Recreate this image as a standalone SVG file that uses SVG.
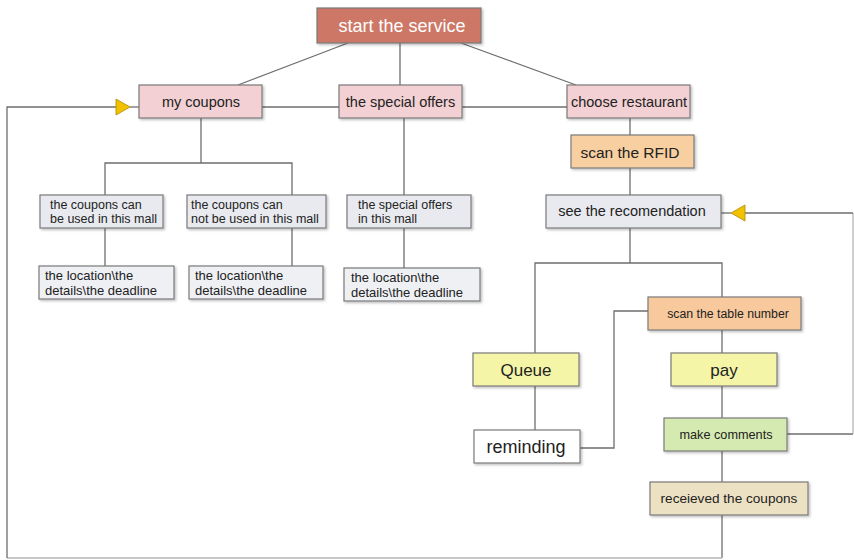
<svg xmlns="http://www.w3.org/2000/svg" width="854" height="560" viewBox="0 0 854 560">
<style>
.b{stroke:#7a7a7a;stroke-width:1.2}
.c{fill:none;stroke:#6e6e6e;stroke-width:1.3}
.c2{fill:none;stroke:#b5b5b5;stroke-width:1.3}
text{font-family:"Liberation Sans","Open Sans",sans-serif;fill:#222}
.m{text-anchor:middle}
.s12{font-size:12.5px}
.d{font-size:13px}
.s13{font-size:14.5px}
.s16{font-size:17px}
.tri{fill:#f2c200;stroke:#b08900;stroke-width:0.8}
</style>
<defs>
<filter id="sh" x="-5%" y="-5%" width="115%" height="130%">
<feDropShadow dx="1.5" dy="1.5" stdDeviation="1" flood-color="#000" flood-opacity="0.25"/>
</filter>
</defs>
<rect width="854" height="560" fill="#fff"/>
<g id="connectors">
<line class="c" x1="348" y1="43" x2="238" y2="85"/>
<line class="c" x1="400" y1="43" x2="400" y2="85"/>
<line class="c" x1="461" y1="43" x2="576" y2="85"/>
<line class="c" x1="262" y1="107" x2="339" y2="107"/>
<line class="c" x1="462" y1="107" x2="567" y2="107"/>
<polyline class="c" points="722,515 722,558"/>
<polyline class="c2" points="722,558 7,558"/>
<polyline class="c" points="7,558 7,107 116,107"/>
<line class="c" x1="130" y1="107" x2="139" y2="107"/>
<polygon class="tri" points="116,99 130,107 116,115"/>
<polyline class="c" points="201,118 201,163"/>
<polyline class="c" points="105,195 105,163 292,163 292,195"/>
<line class="c" x1="105" y1="228" x2="105" y2="266"/>
<line class="c" x1="292" y1="228" x2="292" y2="266"/>
<line class="c" x1="404" y1="118" x2="404" y2="195"/>
<line class="c" x1="404" y1="228" x2="404" y2="268"/>
<line class="c" x1="630" y1="118" x2="630" y2="135"/>
<line class="c" x1="630" y1="168" x2="630" y2="195"/>
<line class="c" x1="630" y1="228" x2="630" y2="263"/>
<polyline class="c" points="535,353 535,263 722,263 722,297"/>
<line class="c" x1="535" y1="386" x2="535" y2="430"/>
<polyline class="c" points="580,448 614,448 614,311 648,311"/>
<line class="c" x1="722" y1="330" x2="722" y2="353"/>
<line class="c" x1="722" y1="386" x2="722" y2="418"/>
<line class="c" x1="722" y1="451" x2="722" y2="482"/>
<polyline class="c" points="787,434 853,434"/>
<polyline class="c2" points="853,434 853,213"/>
<line class="c" x1="853" y1="213" x2="745" y2="213"/>
<line class="c" x1="721" y1="213" x2="731" y2="213"/>
<polygon class="tri" points="745,205 731,213 745,221"/>
</g>
<g id="start">
<rect class="b" x="317" y="8" width="164" height="35" fill="#cd7866" filter="url(#sh)"/>
<text class="m" x="402" y="32" font-size="18" style="fill:#fff">start the service</text>
</g>
<g id="my-coupons">
<rect class="b" x="139" y="85" width="123" height="33" fill="#f2d0d3" filter="url(#sh)"/>
<text class="m s13" x="201" y="107">my coupons</text>
</g>
<g id="special-offers">
<rect class="b" x="339" y="85" width="123" height="33" fill="#f2d0d3" filter="url(#sh)"/>
<text class="m s13" x="400.5" y="107">the special offers</text>
</g>
<g id="choose-restaurant">
<rect class="b" x="567" y="85" width="123" height="33" fill="#f2d0d3" filter="url(#sh)"/>
<text class="m s13" x="629" y="107">choose restaurant</text>
</g>
<g id="scan-rfid">
<rect class="b" x="571" y="135" width="123" height="33" fill="#f8cfa0" filter="url(#sh)"/>
<text class="m" x="630" y="158" font-size="15.5">scan the RFID</text>
</g>
<g id="see-recommendation">
<rect class="b" x="546" y="195" width="175" height="33" fill="#e8eaef" filter="url(#sh)"/>
<text class="m s13" x="632" y="216">see the recomendation</text>
</g>
<g id="coupons-used">
<rect class="b" x="40" y="195" width="123" height="33" fill="#e8eaef" filter="url(#sh)"/>
<text class="s12" x="50" y="209">the coupons can</text>
<text class="s12" x="50" y="223">be used in this mall</text>
</g>
<g id="coupons-not-used">
<rect class="b" x="187" y="195" width="139" height="33" fill="#e8eaef" filter="url(#sh)"/>
<text class="s12" x="191" y="209">the coupons can</text>
<text class="s12" x="191" y="223">not be used in this mall</text>
</g>
<g id="special-offers-mall">
<rect class="b" x="347" y="195" width="124" height="33" fill="#e8eaef" filter="url(#sh)"/>
<text class="s12" x="358" y="209">the special offers</text>
<text class="s12" x="358" y="223">in this mall</text>
</g>
<g id="details-1">
<rect class="b" x="39" y="266" width="135" height="33" fill="#eef0f4" filter="url(#sh)"/>
<text class="d" x="45" y="280">the location\the</text>
<text class="d" x="45" y="294.5">details\the deadline</text>
</g>
<g id="details-2">
<rect class="b" x="189" y="266" width="134" height="33" fill="#eef0f4" filter="url(#sh)"/>
<text class="d" x="195" y="280">the location\the</text>
<text class="d" x="195" y="294.5">details\the deadline</text>
</g>
<g id="details-3">
<rect class="b" x="344" y="268" width="136" height="33" fill="#eef0f4" filter="url(#sh)"/>
<text class="d" x="351" y="282">the location\the</text>
<text class="d" x="351" y="296.5">details\the deadline</text>
</g>
<g id="queue">
<rect class="b" x="473" y="353" width="106" height="33" fill="#f5f5a8" filter="url(#sh)"/>
<text class="m s16" x="526" y="376">Queue</text>
</g>
<g id="reminding">
<rect class="b" x="474" y="430" width="106" height="33" fill="#fff" filter="url(#sh)"/>
<text class="m" x="526" y="453" font-size="18">reminding</text>
</g>
<g id="scan-table">
<rect class="b" x="648" y="297" width="153" height="33" fill="#f8c99c" filter="url(#sh)"/>
<text class="m" x="728" y="318" font-size="12.3">scan the table number</text>
</g>
<g id="pay">
<rect class="b" x="671" y="353" width="106" height="33" fill="#f5f5a8" filter="url(#sh)"/>
<text class="m s16" x="724" y="376">pay</text>
</g>
<g id="make-comments">
<rect class="b" x="664" y="418" width="123" height="33" fill="#d5eab0" filter="url(#sh)"/>
<text class="m" x="726" y="439" font-size="12.7">make comments</text>
</g>
<g id="received-coupons">
<rect class="b" x="650" y="482" width="158" height="33" fill="#ede1c3" filter="url(#sh)"/>
<text class="m" x="729" y="503" font-size="13.6">receieved the coupons</text>
</g>
</svg>
